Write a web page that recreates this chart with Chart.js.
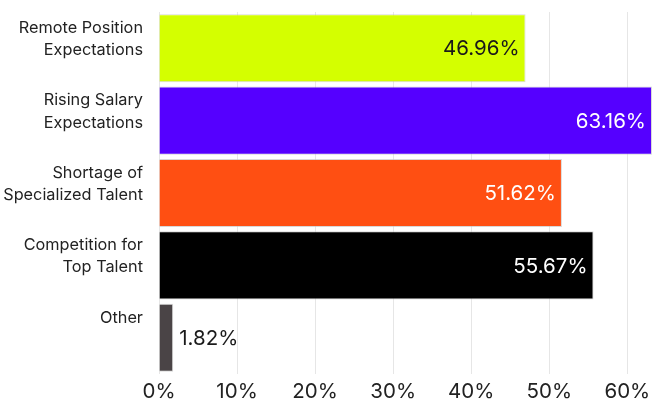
<!DOCTYPE html>
<html>
<head>
<meta charset="utf-8">
<script src="https://cdn.jsdelivr.net/npm/chart.js@4"></script>
<style>
  html, body { margin: 0; padding: 0; background: #fff; }
  #wrap { width: 653px; height: 402px; }
</style>
</head>
<body>
<div id="wrap"><canvas id="chart"></canvas></div>
<script>
// ---- data ----
const categories = [
  ["Remote Position", "Expectations"],
  ["Rising Salary", "Expectations"],
  ["Shortage of", "Specialized Talent"],
  ["Competition for", "Top Talent"],
  ["Other", ""]
];
const values = [46.96, 63.16, 51.62, 55.67, 1.82];
const xTicks = [0, 10, 20, 30, 40, 50, 60];
const barColors = ["#d4ff00", "#5500ff", "#ff4f12", "#000000", "#4a4446"];
const labelColors = ["#1a1a1a", "#ffffff", "#ffffff", "#ffffff", "#1a1a1a"];

const FONT = "Inter, 'DejaVu Sans', sans-serif";

// draw value labels at bar ends
const valueLabels = {
  id: "valueLabels",
  afterDatasetsDraw(chart) {
    const ctx = chart.ctx;
    const meta = chart.getDatasetMeta(0);
    ctx.save();
    ctx.font = "20.5px " + FONT;
    ctx.textBaseline = "middle";
    meta.data.forEach((bar, i) => {
      const txt = values[i].toFixed(2) + "%";
      const w = ctx.measureText(txt).width;
      const inside = (bar.x - bar.base) > w + 16;
      ctx.fillStyle = labelColors[i];
      if (inside) {
        ctx.textAlign = "right";
        ctx.fillText(txt, bar.x - 6, bar.y + 1);
      } else {
        ctx.textAlign = "left";
        ctx.fillText(txt, bar.x + 6, bar.y + 1);
      }
    });
    ctx.restore();
  }
};

new Chart(document.getElementById("chart"), {
  type: "bar",
  data: {
    labels: categories,
    datasets: [{
      data: values,
      backgroundColor: barColors,
      borderColor: "rgba(190,190,190,0.6)",
      borderWidth: 1,
      barPercentage: 0.94,
      categoryPercentage: 1
    }]
  },
  options: {
    indexAxis: "y",
    responsive: true,
    maintainAspectRatio: false,
    animation: false,
    layout: { padding: { top: 12, right: 1, bottom: 0, left: 0 } },
    plugins: {
      legend: { display: false },
      tooltip: { enabled: false }
    },
    scales: {
      x: {
        min: 0,
        max: Math.max(...values),
        border: { display: false },
        grid: { color: "#e6e6e6", drawTicks: false },
        afterBuildTicks(scale) {
          scale.ticks = xTicks.map(v => ({ value: v }));
        },
        afterFit(scale) {
          scale.height = 28;
          scale.paddingLeft = 0;
          scale.paddingRight = 0;
        },
        ticks: {
          padding: 6,
          color: "#222",
          font: { family: FONT, size: 20.5 },
          callback: v => v + "%"
        }
      },
      y: {
        border: { display: false },
        grid: { display: false },
        ticks: {
          color: "#222",
          padding: 8,
          labelOffset: -9,
          font: { family: FONT, size: 16.3, lineHeight: 1.35 }
        },
        afterFit(scale) {
          scale.width = 159;
          scale.paddingTop = 0;
          scale.paddingBottom = 0;
        }
      }
    }
  },
  plugins: [valueLabels]
});
</script>
</body>
</html>
